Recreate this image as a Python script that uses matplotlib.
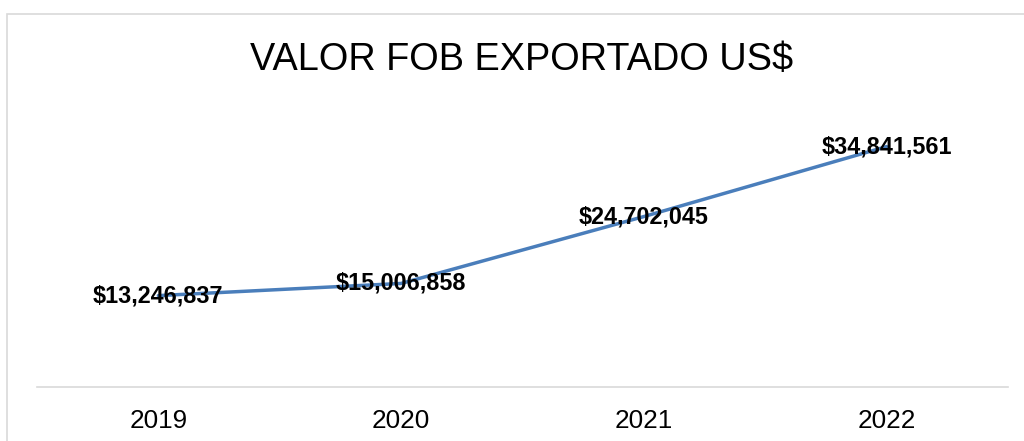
import matplotlib
matplotlib.use('Agg')
from matplotlib import pyplot as plt
from matplotlib.patches import Rectangle

##### data
years = ['2019', '2020', '2021', '2022']
fob_values = [13246837, 15006858, 24702045, 34841561]
fob_labels = ['$13,246,837', '$15,006,858', '$24,702,045', '$34,841,561']

plt.rcParams['font.family'] = ['Liberation Sans', 'DejaVu Sans']

fig = plt.figure(figsize=(10.24, 4.41), dpi=100)

# chart border (light gray, runs off right/bottom edge like the source)
W, H = 1024, 441
fig.patches.append(Rectangle((7 / W, -0.1), 1.1, 1 - 14 / H + 0.1,
                             transform=fig.transFigure, fill=False,
                             edgecolor='#d9d9d9', linewidth=1.2))

ax = fig.add_axes([37 / W, 1 - 387 / H, (1008 - 37) / W, (387 - 111) / H])
x = range(len(years))
ax.plot(x, fob_values, color='#4a7ebb', linewidth=2.5, solid_capstyle='round', zorder=2)

for xi, v, lab in zip(x, fob_values, fob_labels):
    ax.text(xi, v, lab, ha='center', va='center', fontsize=16.8,
            fontweight='bold', color='black', zorder=3)

ax.set_xlim(-0.5, len(years) - 0.5)
ax.set_ylim(0, 40e6)
ax.set_xticks(list(x))
ax.set_xticklabels(years, fontsize=18.8)
ax.set_yticks([])
ax.tick_params(axis='x', length=0, pad=16)
for s in ['top', 'right', 'left']:
    ax.spines[s].set_visible(False)
ax.spines['bottom'].set_color('#d9d9d9')
ax.spines['bottom'].set_linewidth(1.2)

fig.text(522 / W, 1 - 70 / H, 'VALOR FOB EXPORTADO US$', ha='center',
         va='baseline', fontsize=27.3)

fig.savefig('out.png', dpi=100, facecolor='white')
